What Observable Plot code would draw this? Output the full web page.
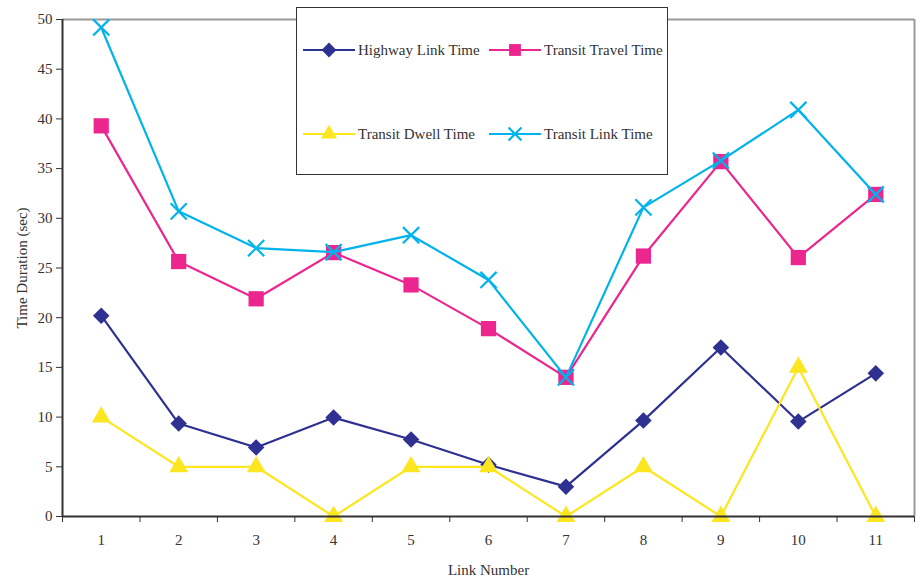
<!DOCTYPE html>
<html>
<head>
<meta charset="utf-8">
<script src="https://cdn.jsdelivr.net/npm/d3@7"></script>
<script src="https://cdn.jsdelivr.net/npm/@observablehq/plot@0.6"></script>
<style>
  body { margin: 0; background: #fff; }
  #wrap { position: relative; width: 921px; height: 580px; font-family: "Liberation Serif", serif; }
  #legend { position: absolute; left: 296px; top: 7px; width: 370px; height: 166px; border: 1px solid #333; background: #fff; }
  .item { position: absolute; display: flex; align-items: center; font-size: 15px; color: #333; }
  .item svg { margin-right: 3px; }
</style>
</head>
<body>
<div id="wrap"></div>
<script>
const links = [1, 2, 3, 4, 5, 6, 7, 8, 9, 10, 11];
const highwayLink = [20.2, 9.35, 6.95, 9.95, 7.75, 5.2, 3.0, 9.65, 17.0, 9.55, 14.4];
const transitTravel = [39.3, 25.65, 21.9, 26.55, 23.3, 18.9, 14.0, 26.2, 35.7, 26.05, 32.4];
const transitDwell = [10, 5, 5, 0, 5, 5, 0, 5, 0, 15, 0];
const transitLink = [49.2, 30.7, 27.0, 26.6, 28.3, 23.8, 14.0, 31.1, 35.8, 40.9, 32.4];
const yTicks = [0, 5, 10, 15, 20, 25, 30, 35, 40, 45, 50];

const seriesNames = ["Highway Link Time", "Transit Travel Time", "Transit Dwell Time", "Transit Link Time"];
const seriesValues = [highwayLink, transitTravel, transitDwell, transitLink];
const colors = ["#2E3192", "#EC268F", "#FCE620", "#00B3EC"];

// square rotated 45° (equal width and height)
const rhombus = {draw(context, size) { const h = Math.sqrt(size / 2); context.moveTo(0, -h); context.lineTo(h, 0); context.lineTo(0, h); context.lineTo(-h, 0); context.closePath(); }};
const symbolObjs = [rhombus, d3.symbolSquare, d3.symbolTriangle, d3.symbolTimes];
const filledFlags = [true, true, true, false];
const radii = [6.6, 8.6, 7.0, 7.4];

const rows = [];
seriesNames.forEach((name, s) => links.forEach((l, i) => rows.push({series: name, link: l, value: seriesValues[s][i]})));
const edges = d3.range(0.5, 12, 1);

const marks = [
  Plot.ruleY([50], {stroke: "#999", strokeWidth: 2}),
  Plot.ruleX([11.5], {stroke: "#999", strokeWidth: 2}),
  Plot.axisY({ticks: yTicks, tickSize: 6, tickPadding: 4, fontSize: 15, label: "Time Duration (sec)", labelAnchor: "center", labelArrow: "none", labelOffset: 46, stroke: "#333", color: "#333"}),
  Plot.axisX({ticks: edges, tickSize: 6, tickFormat: () => "", label: null, stroke: "#333"}),
  Plot.axisX({ticks: links, tickSize: 0, tickPadding: 18, fontSize: 15, label: "Link Number", labelAnchor: "center", labelArrow: "none", labelOffset: 58, color: "#333"}),
];
seriesNames.forEach((name, s) => {
  const d = rows.filter(r => r.series === name);
  const filled = filledFlags[s];
  marks.push(Plot.line(d, {x: "link", y: "value", stroke: colors[s], strokeWidth: 2.2}));
  marks.push(Plot.dot(d, {x: "link", y: "value", symbol: () => symbolObjs[s], r: radii[s],
    fill: filled ? colors[s] : "none", stroke: filled ? "none" : colors[s], strokeWidth: 2.2}));
});
marks.push(Plot.ruleX([0.5], {stroke: "#333", strokeWidth: 2}));
marks.push(Plot.ruleY([0], {stroke: "#333", strokeWidth: 2}));

const chart = Plot.plot({
  width: 921, height: 580,
  marginLeft: 62, marginRight: 7, marginTop: 19, marginBottom: 64,
  style: {fontFamily: "Liberation Serif, serif", fontSize: "15px", color: "#333", background: "#fff"},
  x: {type: "linear", domain: [0.5, 11.5]},
  y: {domain: [0, 50]},
  symbol: {type: "identity"},
  marks
});
const wrap = document.getElementById("wrap");
wrap.appendChild(chart);

// legend
const legend = document.createElement("div");
legend.id = "legend";
const pos = [[6, 32], [192, 32], [6, 116], [192, 116]];
const legendSizes = [110, 140, 110, 110];
seriesNames.forEach((name, s) => {
  const it = document.createElement("div");
  it.className = "item";
  it.style.left = pos[s][0] + "px";
  it.style.top = pos[s][1] + "px";
  const sym = d3.symbol().type(symbolObjs[s]).size(legendSizes[s])();
  const filled = filledFlags[s];
  it.innerHTML = `<svg width="52" height="20"><line x1="0" x2="52" y1="10" y2="10" stroke="${colors[s]}" stroke-width="2.2"/><path transform="translate(26,10)" d="${sym}" fill="${filled ? colors[s] : "none"}" stroke="${filled ? "none" : colors[s]}" stroke-width="2.2"/></svg><span>${name}</span>`;
  legend.appendChild(it);
});
wrap.appendChild(legend);
</script>
</body>
</html>
